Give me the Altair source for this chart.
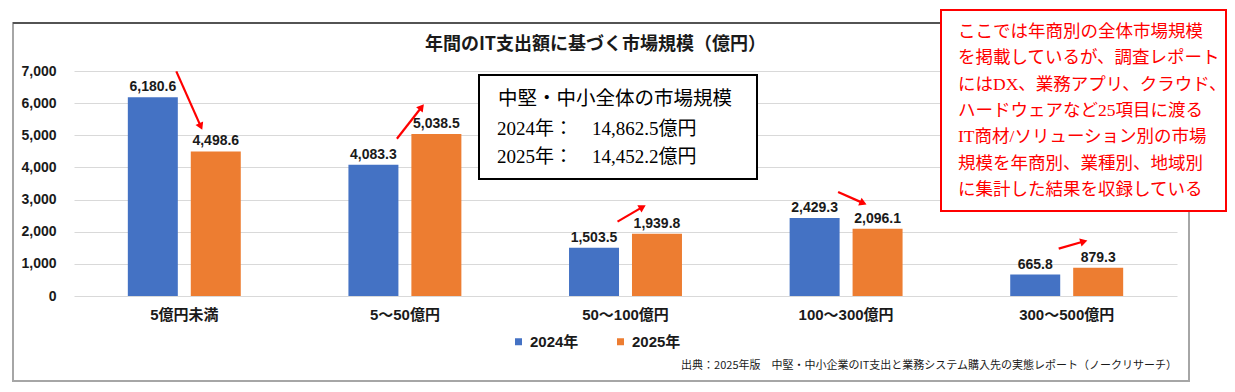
import altair as alt
import pandas as pd
import numpy as np

# ---------------- data ----------------
categories = ["5億円未満", "5～50億円", "50～100億円", "100～300億円", "300～500億円"]
years = ["2024年", "2025年"]
values_2024 = [6180.6, 4083.3, 1503.5, 2429.3, 665.8]
values_2025 = [4498.6, 5038.5, 1939.8, 2096.1, 879.3]
y_ticks = [0, 1000, 2000, 3000, 4000, 5000, 6000, 7000]
bar_colors = ["#4472C4", "#ED7D31"]

title_text = "年間のIT支出額に基づく市場規模（億円）"
summary_title = "中堅・中小全体の市場規模"
summary_lines = ["2024年：\u300014,862.5億円", "2025年：\u300014,452.2億円"]
note_lines = [
    "ここでは年商別の全体市場規模",
    "を掲載しているが、調査レポート",
    "にはDX、業務アプリ、クラウド、",
    "ハードウェアなど25項目に渡る",
    "IT商材/ソリューション別の市場",
    "規模を年商別、業種別、地域別",
    "に集計した結果を収録している",
]
source_text = "出典：2025年版　中堅・中小企業のIT支出と業務システム購入先の実態レポート（ノークリサーチ）"

# ---------------- layout constants ----------------
W, H = 1103, 225
YMAX = 7000
ARROW_X0, ARROW_X1, ARROW_DY = -8, 16, -26

SANS = "Liberation Sans, Noto Sans CJK JP"
SERIF = "Liberation Serif, Noto Sans CJK JP"
CJK = "Noto Sans CJK JP"
TXT = "#1a1a1a"

rows = []
for c, a, b in zip(categories, values_2024, values_2025):
    rows.append({"category": c, "year": years[0], "value": a})
    rows.append({"category": c, "year": years[1], "value": b})
df = pd.DataFrame(rows)

# arrows: from the 2024 value to the 2025 value of each group
arrow_df = pd.DataFrame({"category": categories, "value": values_2024, "value_end": values_2025})
head_df = pd.DataFrame({"category": categories, "value": values_2025})
dy_screen = -(np.array(values_2025) - np.array(values_2024)) * H / YMAX
head_df["angle"] = np.mod(np.degrees(np.arctan2(ARROW_X1 - ARROW_X0, -dy_screen)), 360)

one = pd.DataFrame({"k": [0]})

x_scale = alt.Scale(paddingInner=0.488, paddingOuter=0.244)
x_axis = alt.Axis(title=None, labelAngle=0, ticks=False, domain=False, grid=False,
                  labelPadding=11, labelFontSize=15, labelFontWeight="bold",
                  labelFont=SANS, labelColor=TXT, labelOverlap=False)
y_scale = alt.Scale(domain=[0, YMAX], nice=False)
y_axis = alt.Axis(title=None, values=y_ticks, format=",.0f", ticks=False, domain=False,
                  grid=True, gridColor="#d9d9d9", gridWidth=1, labelPadding=18,
                  labelFontSize=14, labelFontWeight="bold", labelFont=SANS, labelColor=TXT,
                  labelOverlap=False)

def X(**kw):
    return alt.X("category:N", sort=categories, scale=x_scale, axis=x_axis, **kw)

def Y():
    return alt.Y("value:Q", scale=y_scale, axis=y_axis)

xo_enc = alt.XOffset("year:N", sort=years, scale=alt.Scale(paddingInner=0.206, paddingOuter=0))

# frame
frame = alt.Chart(one).mark_rect(fillOpacity=0, stroke="#a6a6a6", strokeWidth=2).encode(
    x=alt.value(-61), x2=alt.value(1115), y=alt.value(-48), y2=alt.value(310))
top_line = alt.Chart(one).mark_rule(color="#000000", strokeWidth=1).encode(
    x=alt.value(-61), x2=alt.value(1115), y=alt.value(-48))

bars = alt.Chart(df).mark_bar().encode(
    x=X(), xOffset=xo_enc, y=Y(),
    color=alt.Color("year:N", sort=years, scale=alt.Scale(domain=years, range=bar_colors),
                    legend=alt.Legend(orient="none", legendX=437, legendY=263, direction="horizontal",
                                      title=None, symbolType="square", symbolSize=49,
                                      symbolStrokeWidth=0, labelFontSize=15, labelFontWeight="bold",
                                      labelFont=SANS, labelColor=TXT, columnPadding=34, labelOffset=4)),
)

labels = alt.Chart(df).mark_text(baseline="bottom", dy=-3, fontSize=14, fontWeight="bold",
                                 font=SANS, color=TXT).encode(
    x=X(), xOffset=xo_enc, y=Y(),
    text=alt.Text("value:Q", format=",.1f"))

arrows = alt.Chart(arrow_df).mark_rule(color="#FF0000", strokeWidth=2.2,
                                       xOffset=ARROW_X0, x2Offset=ARROW_X1,
                                       yOffset=ARROW_DY, y2Offset=ARROW_DY).encode(
    x=X(bandPosition=0.5),
    x2=alt.X2("category:N", bandPosition=0.5),
    y=Y(), y2="value_end:Q")

heads = alt.Chart(head_df).mark_point(shape="triangle", filled=True, size=70, color="#FF0000",
                                      opacity=1, xOffset=ARROW_X1, yOffset=ARROW_DY).encode(
    x=X(bandPosition=0.5), y=Y(),
    angle=alt.Angle("angle:Q", scale=None))

title = alt.Chart(one).mark_text(fontSize=18, fontWeight="bold", font=CJK, color=TXT,
                                 align="center", baseline="middle").encode(
    x=alt.value(521.5), y=alt.value(-26), text=alt.value(title_text))

info_box = alt.Chart(one).mark_rect(fill="white", stroke="#000000", strokeWidth=2).encode(
    x=alt.value(405), x2=alt.value(683), y=alt.value(4), y2=alt.value(108))
info_t1 = alt.Chart(one).mark_text(fontSize=19.5, font=CJK, color="#000000",
                                   align="left", baseline="middle").encode(
    x=alt.value(424), y=alt.value(28), text=alt.value(summary_title))
info_t2 = alt.Chart(one).mark_text(fontSize=19, font=SERIF, color="#000000",
                                   align="left", baseline="middle", lineHeight=28).encode(
    x=alt.value(423), y=alt.value(58), text=alt.value(summary_lines))

red_box = alt.Chart(one).mark_rect(fill="white", stroke="#FF0000", strokeWidth=2).encode(
    x=alt.value(867), x2=alt.value(1152), y=alt.value(-61), y2=alt.value(140))
red_text = alt.Chart(one).mark_text(fontSize=17.5, font=SERIF, color="#FF0000",
                                    align="left", baseline="middle", lineHeight=26.3).encode(
    x=alt.value(884), y=alt.value(-39), text=alt.value(note_lines))

source = alt.Chart(one).mark_text(fontSize=11, font=CJK, color=TXT,
                                  align="right", baseline="middle").encode(
    x=alt.value(1103), y=alt.value(295), text=alt.value(source_text))

chart = alt.layer(
    frame, top_line, bars, labels, arrows, heads, title,
    info_box, info_t1, info_t2, red_box, red_text, source
).properties(
    width=W, height=H,
    padding={"left": 66, "top": 63, "right": 50, "bottom": 88},
    autosize="none",
    background="white",
).configure_view(strokeWidth=0)

chart.save("out.html", embed_options={"renderer": "svg", "actions": False})
